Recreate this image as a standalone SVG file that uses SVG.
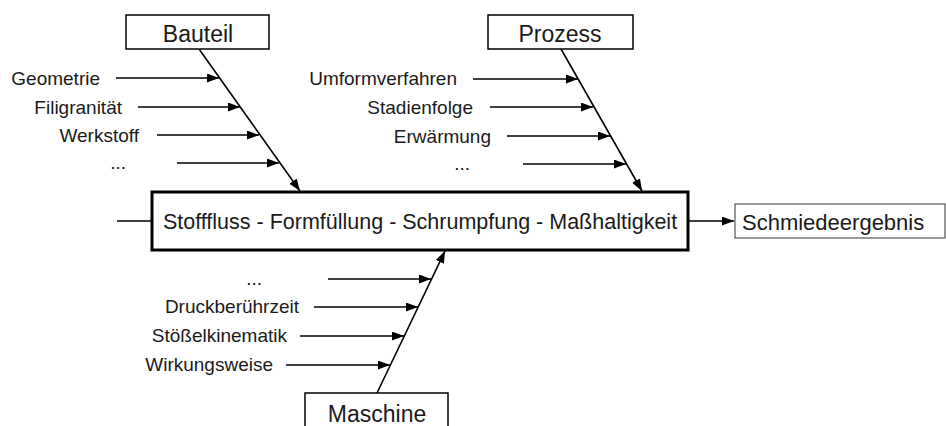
<svg xmlns="http://www.w3.org/2000/svg" width="946" height="426" viewBox="0 0 946 426">
<style>
  text { font-family: "Liberation Sans", Arial, sans-serif; fill: #1a1a1a; }
  .lbl { font-size: 19px; text-anchor: end; }
  .title { font-size: 23px; text-anchor: middle; }
  .box { fill: #fff; stroke: #000; stroke-width: 1.5; }
  .ln { stroke: #000; stroke-width: 1.6; fill: none; }
</style>
<defs>
  <marker id="ah" markerUnits="userSpaceOnUse" markerWidth="13" markerHeight="10" refX="12" refY="4.5" orient="auto">
    <path d="M0,0 L12,4.5 L0,9 z" fill="#000"/>
  </marker>
</defs>
<rect width="946" height="426" fill="#fff"/>

<g id="connectors">
  <!-- main spine -->
  <line class="ln" x1="117" y1="221" x2="152" y2="221"/>
  <line class="ln" x1="688" y1="221" x2="734" y2="221" marker-end="url(#ah)"/>
  <!-- Bauteil branch -->
  <line class="ln" x1="199" y1="49" x2="300" y2="191" marker-end="url(#ah)"/>
  <line class="ln" x1="116" y1="78" x2="219" y2="78" marker-end="url(#ah)"/>
  <line class="ln" x1="138" y1="107" x2="240" y2="107" marker-end="url(#ah)"/>
  <line class="ln" x1="157" y1="135" x2="259" y2="135" marker-end="url(#ah)"/>
  <line class="ln" x1="177" y1="163" x2="279" y2="163" marker-end="url(#ah)"/>
  <!-- Prozess branch -->
  <line class="ln" x1="561" y1="49" x2="642" y2="191" marker-end="url(#ah)"/>
  <line class="ln" x1="473" y1="79" x2="578" y2="79" marker-end="url(#ah)"/>
  <line class="ln" x1="490" y1="107" x2="593" y2="107" marker-end="url(#ah)"/>
  <line class="ln" x1="507" y1="136" x2="610" y2="136" marker-end="url(#ah)"/>
  <line class="ln" x1="523" y1="164" x2="626" y2="164" marker-end="url(#ah)"/>
  <!-- Maschine branch -->
  <line class="ln" x1="377" y1="393" x2="445" y2="251" marker-end="url(#ah)"/>
  <line class="ln" x1="328" y1="279" x2="431" y2="279" marker-end="url(#ah)"/>
  <line class="ln" x1="314" y1="307" x2="418" y2="307" marker-end="url(#ah)"/>
  <line class="ln" x1="300" y1="336" x2="404" y2="336" marker-end="url(#ah)"/>
  <line class="ln" x1="286" y1="365" x2="390" y2="365" marker-end="url(#ah)"/>
</g>

<g id="bauteil">
  <rect class="box" x="126" y="15" width="143" height="34"/>
  <text class="title" x="198" y="42">Bauteil</text>
</g>
<g id="prozess">
  <rect class="box" x="488" y="15" width="145" height="34"/>
  <text class="title" x="560" y="42">Prozess</text>
</g>
<g id="maschine">
  <rect class="box" x="305" y="393" width="143" height="40"/>
  <text class="title" x="377" y="422">Maschine</text>
</g>
<g id="main">
  <rect x="152" y="192" width="536" height="58" fill="#fff" stroke="#000" stroke-width="3"/>
  <text x="420" y="229" style="font-size:21.5px;text-anchor:middle">Stofffluss - Formfüllung - Schrumpfung - Maßhaltigkeit</text>
</g>
<g id="ergebnis">
  <rect x="735" y="204" width="210" height="34" fill="#fff" stroke="#333" stroke-width="1"/>
  <text x="742" y="230" style="font-size:22px">Schmiedeergebnis</text>
</g>

<g id="labels-bauteil">
  <text class="lbl" x="100" y="85">Geometrie</text>
  <text class="lbl" x="122" y="114">Filigranität</text>
  <text class="lbl" x="139" y="142">Werkstoff</text>
  <text class="lbl" x="126" y="169">...</text>
</g>
<g id="labels-prozess">
  <text class="lbl" x="457" y="85">Umformverfahren</text>
  <text class="lbl" x="473" y="114">Stadienfolge</text>
  <text class="lbl" x="491" y="143">Erwärmung</text>
  <text class="lbl" x="470" y="170">...</text>
</g>
<g id="labels-maschine">
  <text class="lbl" x="262" y="285">...</text>
  <text class="lbl" x="299" y="313">Druckberührzeit</text>
  <text class="lbl" x="287" y="342">Stößelkinematik</text>
  <text class="lbl" x="273" y="371">Wirkungsweise</text>
</g>
</svg>
